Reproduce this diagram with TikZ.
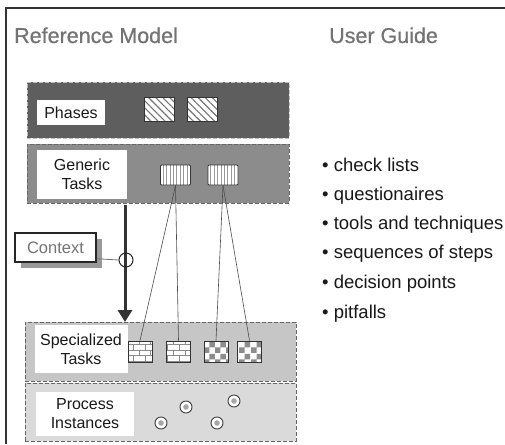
\documentclass[tikz,border=0pt]{standalone}
\usepackage{fontspec}
\setmainfont{Liberation Sans}
\newfontfamily\titlefont[FakeBold=0.6]{Liberation Sans}
\usetikzlibrary{arrows.meta,patterns,patterns.meta,shadows}
\definecolor{bandA}{HTML}{5E5E5E}
\definecolor{bandB}{HTML}{8C8C8C}
\definecolor{bandC}{HTML}{C6C6C6}
\definecolor{bandD}{HTML}{DADADA}
\definecolor{titlegray}{HTML}{737373}
\begin{document}
\begin{tikzpicture}[x=1pt,y=-1pt,
  band/.style={draw=black!60, dashed, dash pattern=on 4pt off 2pt, line width=0.9pt, inner sep=0pt},
  lab/.style={fill=white, align=center, inner sep=0pt, text=black!90,
    font=\fontsize{16}{19}\selectfont},
  pbox/.style={draw=black!80, line width=0.8pt, preaction={fill=white}, inner sep=0pt},
  hatch/.style={pbox, minimum width=30pt, minimum height=24pt,
    pattern={Lines[angle=-45,distance=5pt,line width=1.1pt]}, pattern color=black!55},
  vstripe/.style={pbox, rounded corners=1pt, minimum width=30pt, minimum height=20pt,
    pattern={Lines[angle=90,distance=3.4pt,line width=0.9pt]}, pattern color=black!40},
  brick/.style={pbox, minimum width=24pt, minimum height=21pt, pattern=bricks, pattern color=black!45},
  checker/.style={pbox, minimum width=24pt, minimum height=21pt, pattern=checkerboard, pattern color=black!45},
  inst/.style={circle, draw=black!75, line width=0.9pt, fill=white, minimum size=12pt, inner sep=0pt,
    path picture={\fill[black!35] (path picture bounding box.center) circle (2.8pt);}},
  link/.style={draw=black!70, line width=0.6pt},
  title/.style={text=titlegray, font=\titlefont\fontsize{21.5}{26}\selectfont, inner sep=0pt, anchor=base west},
  item/.style={anchor=base west, inner sep=0pt, text=black!90, font=\fontsize{18.5}{22}\selectfont}
]
\useasboundingbox (0,0) rectangle (505,444);
\fill[white] (0,0) rectangle (505,444);
% frame
\draw[line width=1.8pt, black!80] (6,444) -- (6,8) -- (505,8);

% titles
\node[title] (t1) at (14,43) {Reference Model};
\node[title] (t2) at (329,43) {User Guide};

% bands
\node[band, fill=bandA, draw=white!75!black, minimum width=262pt, minimum height=56pt] (phases) at (158,110) {};
\node[band, fill=bandB, minimum width=262pt, minimum height=59pt] (generic) at (158,173.5) {};
\node[band, fill=bandC, minimum width=271pt, minimum height=59pt] (special) at (160.5,351.5) {};
\node[band, fill=bandD, minimum width=271pt, minimum height=58pt] (process) at (160.5,412) {};

% labels
\node[lab, minimum width=68pt, minimum height=25pt] (lphases) at (71,112.5) {Phases};
\node[lab, minimum width=90pt, minimum height=49pt] (lgeneric) at (82,174.5) {Generic\\Tasks};
\node[lab, minimum width=93pt, minimum height=48pt] (lspecial) at (81,349) {Specialized\\Tasks};
\node[lab, minimum width=98pt, minimum height=44pt] (lprocess) at (85,414) {Process\\Instances};

% phase boxes
\node[hatch] (p1) at (159,109) {};
\node[hatch] (p2) at (202,109) {};

% generic task boxes
\node[vstripe] (g1) at (175.5,175) {};
\node[vstripe] (g2) at (223,175) {};

% specialized task boxes
\node[brick] (s1) at (140,351.5) {};
\node[brick] (s2) at (178.5,351.5) {};
\node[checker] (s3) at (216,351.5) {};
\node[checker] (s4) at (249.5,351.5) {};

% links
\draw[link] (g1.south) -- (s1.north);
\draw[link] (g1.south) -- (s2.north);
\draw[link] (g2.south) -- (s3.north);
\draw[link] (g2.south) -- (s4.north);

% process instances
\node[inst] (c1) at (161,423) {};
\node[inst] (c2) at (186,407) {};
\node[inst] (c3) at (217,423) {};
\node[inst] (c4) at (234,401) {};

% context arrow
\coordinate (atop) at (125,205);
\coordinate (abot) at (125,322);
\draw[line width=3pt, black!80, -{Triangle[width=14pt,length=12pt]}] (atop) -- (abot);
\node[circle, draw=black!85, line width=1pt, minimum width=14pt, minimum height=13pt, inner sep=0pt] (ring) at (126,260) {};

\node[draw=black!85, line width=1.5pt, fill=white, minimum width=81pt, minimum height=29pt, inner sep=0pt,
  text=titlegray, font=\fontsize{16.5}{19}\selectfont,
  drop shadow={shadow xshift=6pt, shadow yshift=-6pt, fill=black!40, opacity=1}] (ctx) at (55.5,247.5) {Context};
\draw[black!55, line width=0.8pt] ([yshift=4pt]ctx.south east) -- (ring.west);

% user guide list
\node[item] (li1) at (322,171) {• check lists};
\node[item] (li2) at (322,200.5) {• questionaires};
\node[item] (li3) at (322,229.5) {• tools and techniques};
\node[item] (li4) at (322,258.5) {• sequences of steps};
\node[item] (li5) at (322,288) {• decision points};
\node[item] (li6) at (322,318) {• pitfalls};
\end{tikzpicture}
\end{document}
